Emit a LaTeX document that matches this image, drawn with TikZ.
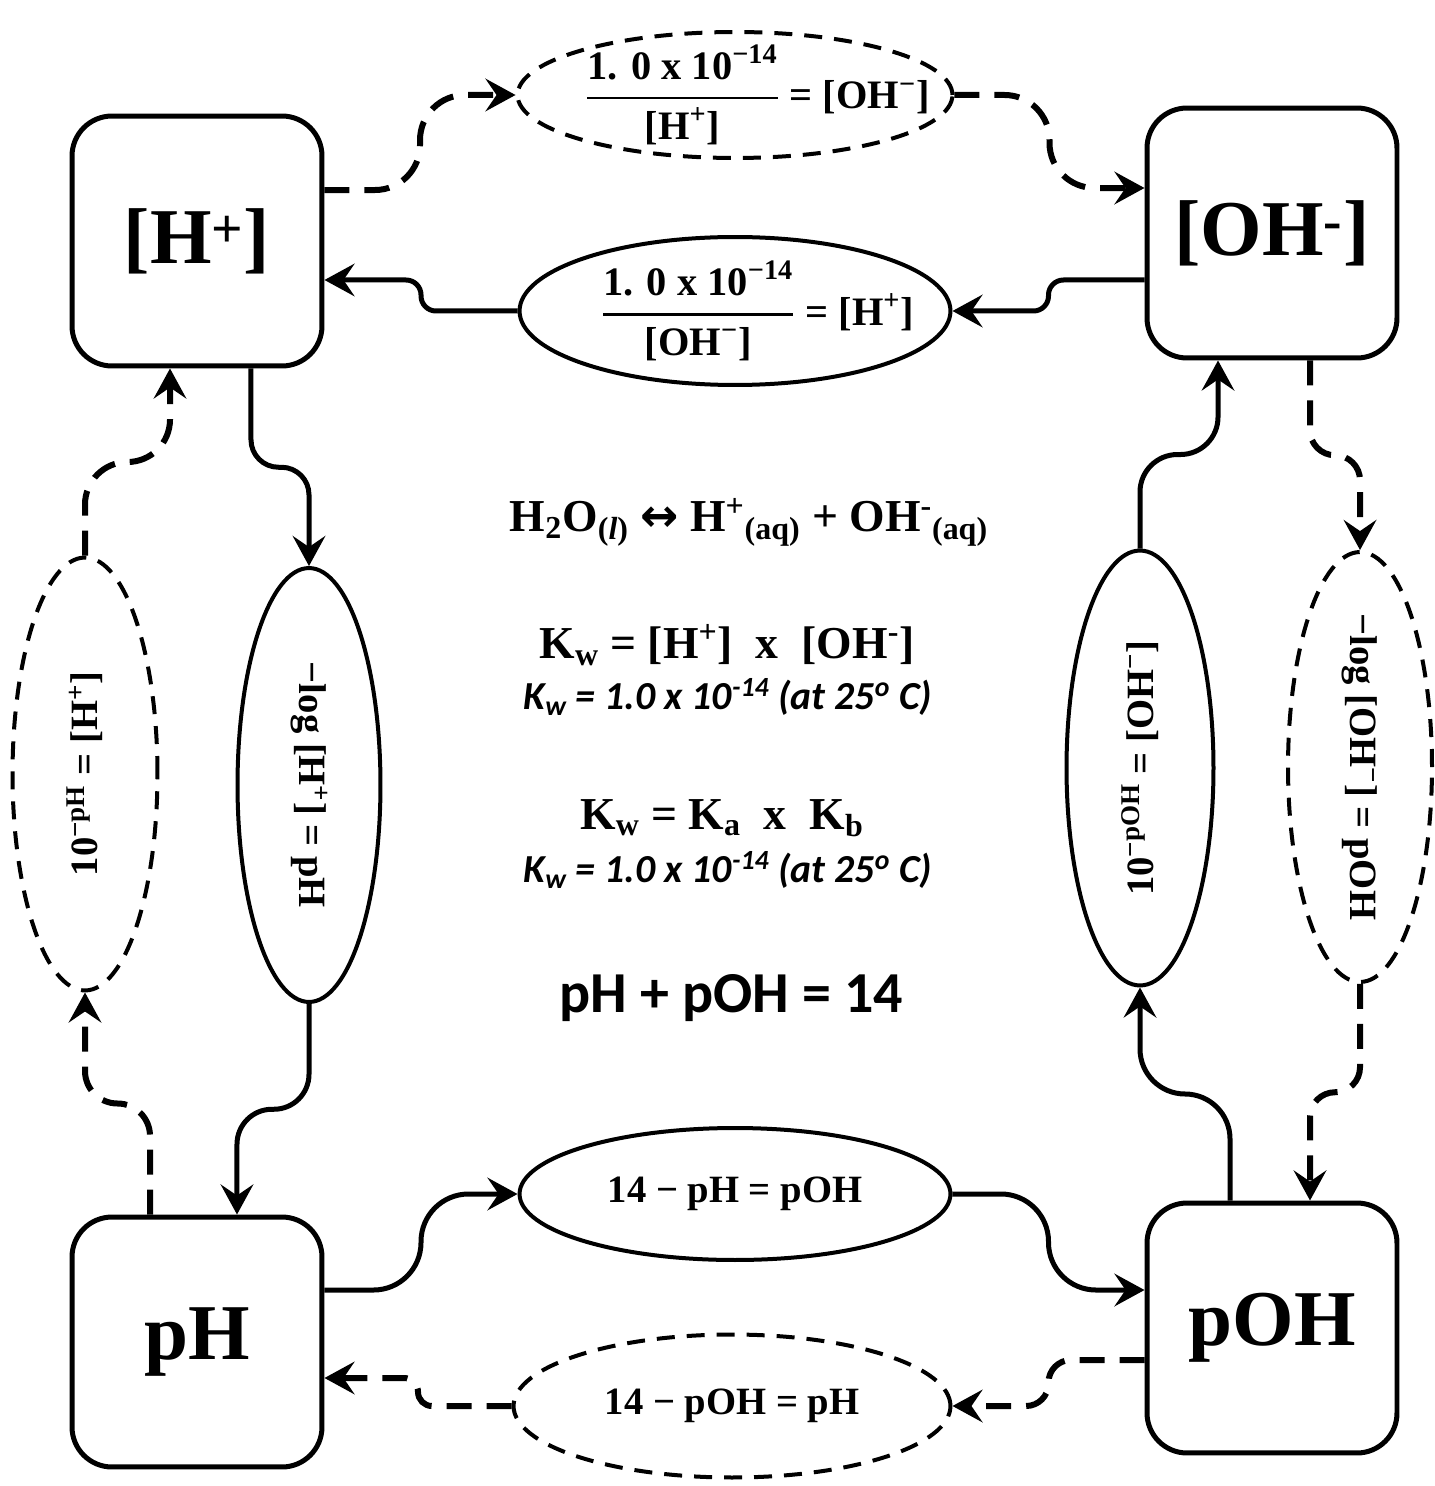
\documentclass[tikz,border=0pt]{standalone}
\usepackage{fontspec}
\newfontfamily\boxfont{Liberation Serif}
\newfontfamily\calib{Carlito}
\newfontfamily\dejavu{DejaVu Sans}
\usetikzlibrary{arrows.meta,shapes.geometric,calc}
\tikzset{
 box/.style={draw, line width=0.1cm, rounded corners=0.8cm, minimum width=5cm, minimum height=5cm, inner sep=0pt, font=\boxfont\bfseries\fontsize{45}{50}\selectfont},
 ellsolid/.style={draw, ellipse, line width=0.08cm, inner sep=0pt},
 elldash/.style={ellsolid, dash pattern=on 0.36cm off 0.24cm},
 conn/.style={line width=0.1cm, -{Stealth[length=0.6cm,width=0.65cm,inset=0.22cm]}},
 dconn/.style={conn, line width=0.12cm, dash pattern=on 0.5cm off 0.3cm},
 mtext/.style={inner sep=0pt, font=\boxfont\bfseries\fontsize{22}{26}\selectfont},
 ftext/.style={inner sep=0pt, font=\boxfont\bfseries\fontsize{23}{27}\selectfont},
 stext/.style={inner sep=0pt, font=\boxfont\bfseries\fontsize{26}{30}\selectfont},
 ctext/.style={inner sep=0pt, font=\calib\bfseries\fontsize{33}{38}\selectfont},
 itext/.style={inner sep=0pt, font=\calib\bfseries\itshape\fontsize{22.6}{26}\selectfont},
}
\newcommand{\myfrac}[2]{$\displaystyle{\hbox{#1}\above 1.6pt\hbox{#2}}$}
\begin{document}
\begin{tikzpicture}[x=0.02cm,y=-0.02cm]
\useasboundingbox (0,0) rectangle (1435,1486);
% boxes
\node[box] (hp) at (197,241) {[H\textsuperscript{+}]};
\node[box] (oh) at (1272,233) {[OH\textsuperscript{-}]};
\node[box] (ph) at (197,1342) {pH};
\node[box] (poh) at (1272,1328) {pOH};
% ellipses
\node[elldash, minimum width=8.7cm, minimum height=2.52cm] (e1) at (735,95) {};
\node[ellsolid, minimum width=8.62cm, minimum height=2.96cm] (e2) at (735,311) {};
\node[elldash, minimum width=2.9cm, minimum height=8.66cm] (e3) at (85,774) {};
\node[ellsolid, minimum width=2.86cm, minimum height=8.68cm] (e4) at (309,785) {};
\node[ellsolid, minimum width=2.94cm, minimum height=8.7cm] (e5) at (1140,768) {};
\node[elldash, minimum width=2.88cm, minimum height=8.6cm] (e6) at (1360,767) {};
\node[ellsolid, minimum width=8.62cm, minimum height=2.64cm] (e7) at (735,1194) {};
\node[elldash, minimum width=8.74cm, minimum height=2.86cm] (e8) at (732,1406) {};
% ellipse texts
\node[ftext] (t1) at ([xshift=0.45cm]e1.center) {\myfrac{1. 0 x 10\textsuperscript{−14}}{[H\textsuperscript{+}]} = [OH\textsuperscript{−}]};
\node[ftext] (t2) at ([xshift=0.45cm]e2.center) {\myfrac{1. 0 x 10\textsuperscript{−14}}{[OH\textsuperscript{−}]} = [H\textsuperscript{+}]};
\node[mtext, rotate=90] (t3) at (e3) {10\textsuperscript{−pH} = [H\textsuperscript{+}]};
\node[mtext, rotate=-90] (t4) at (e4) {−log [H\textsuperscript{+}] = pH};
\node[mtext, rotate=90] (t5) at (e5) {10\textsuperscript{−pOH} = [OH\textsuperscript{−}]};
\node[mtext, rotate=-90] (t6) at (e6) {−log [OH\textsuperscript{−}] = pOH};
\node[mtext] (t7) at (e7) {14 − pH = pOH};
\node[mtext] (t8) at (e8) {14 − pOH = pH};
% centre texts
\node[stext] (l1) at (749,522) {H\textsubscript{2}O\textsubscript{(\textit{l})} {\dejavu ↔} H\textsuperscript{+}\textsubscript{(aq)} + OH\textsuperscript{-}\textsubscript{(aq)}};
\node[stext] (l2) at (727,645) {K\textsubscript{w} = [H\textsuperscript{+}]\ \ x\ \ [OH\textsuperscript{-}]};
\node[itext] (l3) at (728,697) {K\textsubscript{w} = 1.0 x 10\textsuperscript{-14} (at 25\textsuperscript{o} C)};
\node[stext] (l4) at (722,818) {K\textsubscript{w} = K\textsubscript{a}\ \ x\ \ K\textsubscript{b}};
\node[itext] (l5) at (728,870) {K\textsubscript{w} = 1.0 x 10\textsuperscript{-14} (at 25\textsuperscript{o} C)};
\node[ctext] (l6) at (731,998) {pH + pOH = 14};
% connector end points
\coordinate (c1s) at ([yshift=1.02cm]hp.east);
\coordinate (c2e) at ([yshift=0.9cm]oh.west);
\coordinate (c3s) at ([yshift=-0.94cm]oh.west);
\coordinate (c4e) at ([yshift=-0.78cm]hp.east);
\coordinate (c5s) at ([xshift=1.08cm]hp.south);
\coordinate (c6e) at ([xshift=0.8cm]ph.north);
\coordinate (c7s) at ([xshift=-0.94cm]ph.north);
\coordinate (c8e) at ([xshift=-0.54cm]hp.south);
\coordinate (c9s) at ([yshift=1.04cm]ph.east);
\coordinate (c10e) at ([yshift=0.76cm]poh.west);
\coordinate (c11s) at ([yshift=-0.64cm]poh.west);
\coordinate (c12e) at ([yshift=-0.72cm]ph.east);
\coordinate (c13s) at ([xshift=-0.84cm]poh.north);
\coordinate (c14e) at ([xshift=-1.08cm]oh.south);
\coordinate (c15s) at ([xshift=0.76cm]oh.south);
\coordinate (c16e) at ([xshift=0.76cm]poh.north);
% midpoints
\coordinate (m1) at ($(c1s)!0.5!(e1.west)$);
\coordinate (m2) at ($(e1.east)!0.5!(c2e)$);
\coordinate (m3) at ($(c3s)!0.5!(e2.east)$);
\coordinate (m4) at ($(e2.west)!0.5!(c4e)$);
\coordinate (m5) at ($(c5s)!0.5!(e4.north)$);
\coordinate (m6) at ($(e4.south)!0.5!(c6e)$);
\coordinate (m7) at ($(c7s)!0.5!(e3.south)$);
\coordinate (m8) at ($(e3.north)!0.5!(c8e)$);
\coordinate (m9) at ($(c9s)!0.5!(e7.west)$);
\coordinate (m10) at ($(e7.east)!0.5!(c10e)$);
\coordinate (m11) at ($(c11s)!0.5!(e8.east)$);
\coordinate (m12) at ($(e8.west)!0.5!(c12e)$);
\coordinate (m13) at ($(c13s)!0.5!(e5.south)$);
\coordinate (m14) at ($(e5.north)!0.5!(c14e)$);
\coordinate (m15) at ($(c15s)!0.5!(e6.north)$);
\coordinate (m16) at ($(e6.south)!0.5!(c16e)$);
% connectors
\draw[dconn, rounded corners=0.9cm] (c1s) -| (m1 |- e1.west) -- (e1.west);
\draw[dconn, rounded corners=0.9cm] (e1.east) -| (m2 |- c2e) -- (c2e);
\draw[conn, rounded corners=0.3cm] (c3s) -| (m3 |- e2.east) -- (e2.east);
\draw[conn, rounded corners=0.3cm] (e2.west) -| (m4 |- c4e) -- (c4e);
\draw[conn, rounded corners=0.55cm] (c5s) |- (e4.north |- m5) -- (e4.north);
\draw[conn, rounded corners=0.7cm] (e4.south) |- (c6e |- m6) -- (c6e);
\draw[dconn, rounded corners=0.65cm] (c7s) |- (e3.south |- m7) -- (e3.south);
\draw[dconn, rounded corners=0.85cm] (e3.north) |- (c8e |- m8) -- (c8e);
\draw[conn, rounded corners=0.95cm] (c9s) -| (m9 |- e7.west) -- (e7.west);
\draw[conn, rounded corners=0.95cm] (e7.east) -| (m10 |- c10e) -- (c10e);
\draw[dconn, rounded corners=0.45cm] (c11s) -| (m11 |- e8.east) -- (e8.east);
\draw[dconn, rounded corners=0.28cm] (e8.west) -| (m12 |- c12e) -- (c12e);
\draw[conn, rounded corners=0.9cm] (c13s) |- (e5.south |- m13) -- (e5.south);
\draw[conn, rounded corners=0.75cm] (e5.north) |- (c14e |- m14) -- (c14e);
\draw[dconn, rounded corners=0.5cm] (c15s) |- (e6.north |- m15) -- (e6.north);
\draw[dconn, rounded corners=0.5cm] (e6.south) |- (c16e |- m16) -- (c16e);
\end{tikzpicture}
\end{document}
